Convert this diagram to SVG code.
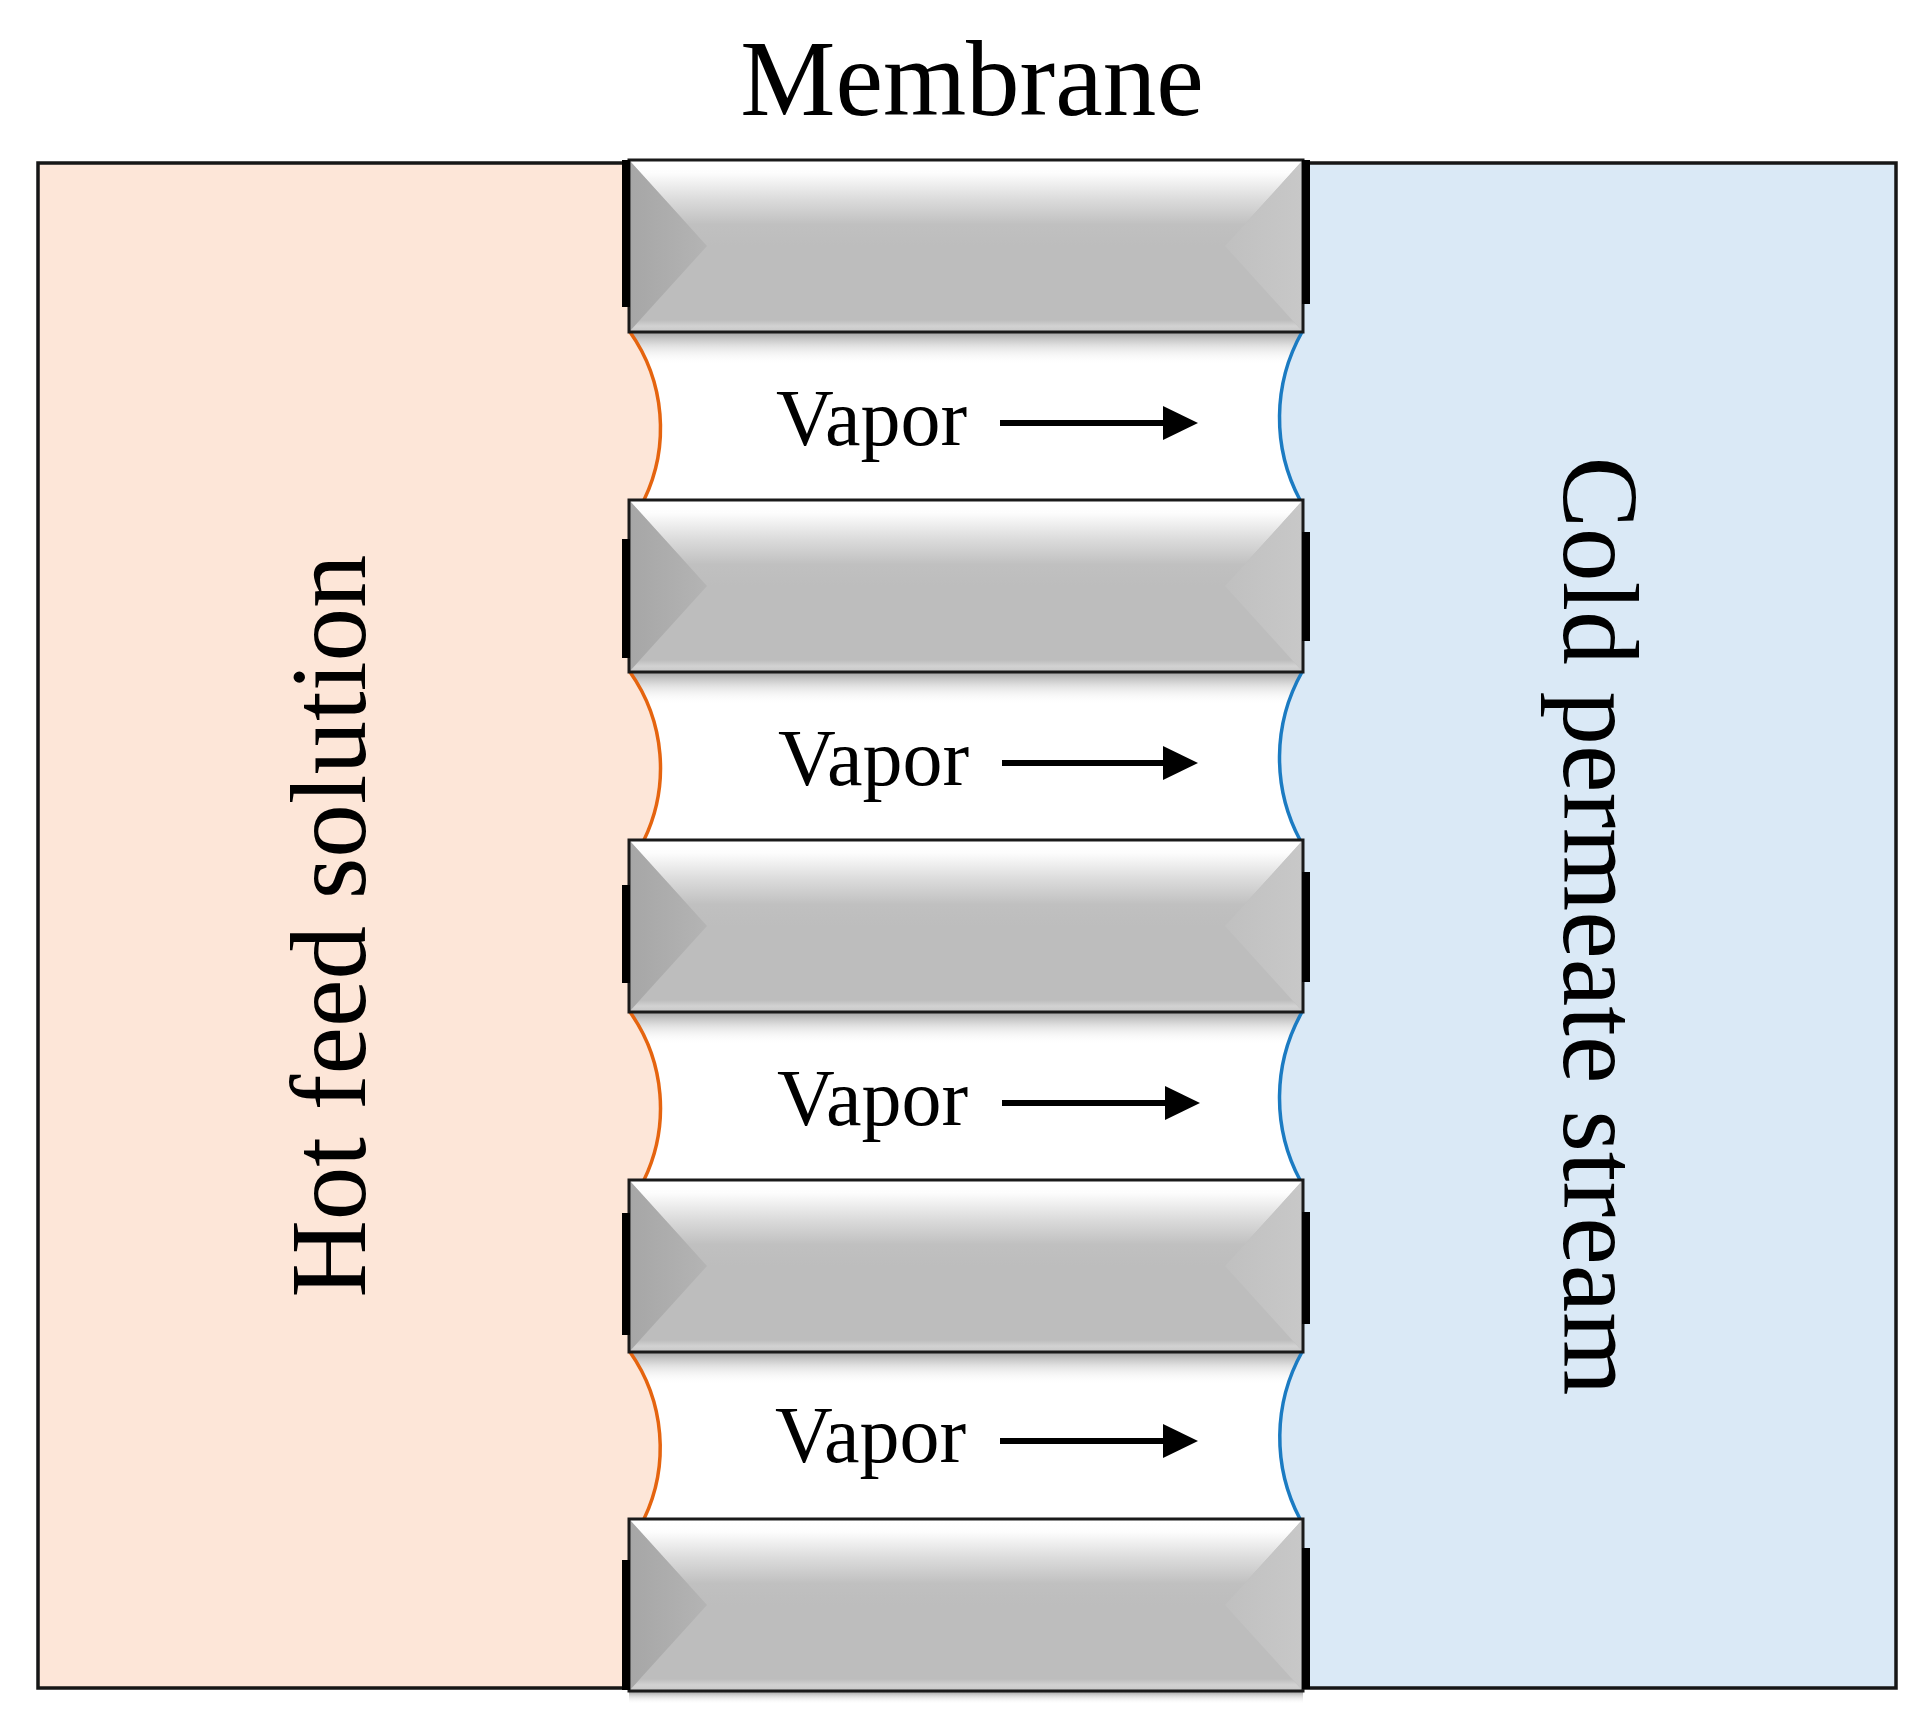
<svg xmlns="http://www.w3.org/2000/svg" xmlns:xlink="http://www.w3.org/1999/xlink" width="1930" height="1727" viewBox="0 0 1930 1727">
<style>
.lbl{font-family:"Liberation Serif","Times New Roman",serif;fill:#000;}
.big{font-size:107px;}
.vap{font-size:80px;}
.hotcurve{fill:none;stroke:#E5640F;stroke-width:3.5;}
.coldcurve{fill:none;stroke:#1B7BC2;stroke-width:3.5;}
.bar{fill:#000;}
.shadow{fill:url(#shadowGrad);}
.arrow{stroke:#000;stroke-width:6;fill:none;marker-end:url(#head);}
</style>
<defs>
<linearGradient id="topGrad" x1="0" y1="0" x2="0" y2="1">
<stop offset="0" stop-color="#ffffff"/>
<stop offset="0.15" stop-color="#fdfdfd"/>
<stop offset="0.45" stop-color="#dcdcdc"/>
<stop offset="0.75" stop-color="#c0c0c0"/>
<stop offset="1" stop-color="#bdbdbd"/>
</linearGradient>
<linearGradient id="leftGrad" x1="0" y1="0" x2="1" y2="0">
<stop offset="0" stop-color="#a6a6a6"/>
<stop offset="1" stop-color="#b4b4b4"/>
</linearGradient>
<linearGradient id="rightGrad" x1="0" y1="0" x2="1" y2="0">
<stop offset="0" stop-color="#c0c0c0"/>
<stop offset="1" stop-color="#c8c8c8"/>
</linearGradient>
<linearGradient id="botGrad" x1="0" y1="0" x2="0" y2="1">
<stop offset="0" stop-color="#bdbdbd"/>
<stop offset="0.5" stop-color="#d2d2d2"/>
<stop offset="1" stop-color="#c8c8c8"/>
</linearGradient>
<linearGradient id="shadowGrad" x1="0" y1="0" x2="0" y2="1">
<stop offset="0" stop-color="#6e6e6e" stop-opacity="0.6"/>
<stop offset="0.4" stop-color="#9a9a9a" stop-opacity="0.3"/>
<stop offset="1" stop-color="#ffffff" stop-opacity="0"/>
</linearGradient>
<marker id="head" markerUnits="userSpaceOnUse" viewBox="0 0 35 34" refX="2" refY="17" markerWidth="35" markerHeight="34" orient="auto">
<path d="M0,0 L35,17 L0,34 Z" fill="#000"/>
</marker>
<g id="blockShape">
<rect x="0" y="0" width="674" height="172" fill="#bdbdbd"/>
<polygon points="0,0 674,0 596,86 78,86" fill="url(#topGrad)"/>
<polygon points="11,160 663,160 674,172 0,172" fill="url(#botGrad)"/>
<polygon points="0,0 78,86 0,172" fill="url(#leftGrad)"/>
<polygon points="674,0 596,86 674,172" fill="url(#rightGrad)"/>
<rect x="0" y="0" width="674" height="172" fill="none" stroke="#1a1a1a" stroke-width="3"/>
</g>
</defs>

<rect x="0" y="0" width="1930" height="1727" fill="#ffffff"/>

<g id="hot-feed-region">
<rect x="38" y="163" width="591" height="1525" fill="#FDE6D8"/>
</g>
<g id="cold-permeate-region">
<rect x="1303" y="163" width="593" height="1525" fill="#DAE9F6"/>
</g>
<g id="frame">
<rect x="38" y="163" width="1858" height="1525" fill="none" stroke="#161616" stroke-width="3.5"/>
</g>

<g id="pore-shadows">
<rect class="shadow" x="629" y="333" width="674" height="32"/>
<rect class="shadow" x="629" y="673" width="674" height="32"/>
<rect class="shadow" x="629" y="1013" width="674" height="32"/>
<rect class="shadow" x="629" y="1353" width="674" height="32"/>
<rect class="shadow" x="629" y="1692" width="674" height="12"/>
</g>

<g id="menisci-hot">
<path d="M630,332 A166,166 0 0 1 644,500 L620,500 L620,332 Z" fill="#FDE6D8"/>
<path d="M630,672 A166,166 0 0 1 644,840 L620,840 L620,672 Z" fill="#FDE6D8"/>
<path d="M630,1012 A166,166 0 0 1 644,1180 L620,1180 L620,1012 Z" fill="#FDE6D8"/>
<path d="M630,1352 A166,166 0 0 1 644,1519 L620,1519 L620,1352 Z" fill="#FDE6D8"/>
<path class="hotcurve" d="M630,332 A166,166 0 0 1 644,500"/>
<path class="hotcurve" d="M630,672 A166,166 0 0 1 644,840"/>
<path class="hotcurve" d="M630,1012 A166,166 0 0 1 644,1180"/>
<path class="hotcurve" d="M630,1352 A166,166 0 0 1 644,1519"/>
</g>
<g id="menisci-cold">
<path d="M1302,332 A175,175 0 0 0 1300,500 L1310,500 L1310,332 Z" fill="#DAE9F6"/>
<path d="M1302,672 A175,175 0 0 0 1300,840 L1310,840 L1310,672 Z" fill="#DAE9F6"/>
<path d="M1302,1012 A175,175 0 0 0 1300,1180 L1310,1180 L1310,1012 Z" fill="#DAE9F6"/>
<path d="M1302,1352 A175,175 0 0 0 1300,1519 L1310,1519 L1310,1352 Z" fill="#DAE9F6"/>
<path class="coldcurve" d="M1302,332 A175,175 0 0 0 1300,500"/>
<path class="coldcurve" d="M1302,672 A175,175 0 0 0 1300,840"/>
<path class="coldcurve" d="M1302,1012 A175,175 0 0 0 1300,1180"/>
<path class="coldcurve" d="M1302,1352 A175,175 0 0 0 1300,1519"/>
</g>

<g id="membrane-block-1">
<use xlink:href="#blockShape" href="#blockShape" transform="translate(629,160)"/>
<rect class="bar" x="622" y="160" width="8" height="147"/>
<rect class="bar" x="1302" y="160" width="8" height="144"/>
</g>
<g id="membrane-block-2">
<use xlink:href="#blockShape" href="#blockShape" transform="translate(629,500)"/>
<rect class="bar" x="622" y="539" width="8" height="119"/>
<rect class="bar" x="1302" y="532" width="8" height="109"/>
</g>
<g id="membrane-block-3">
<use xlink:href="#blockShape" href="#blockShape" transform="translate(629,840)"/>
<rect class="bar" x="622" y="885" width="8" height="98"/>
<rect class="bar" x="1302" y="872" width="8" height="110"/>
</g>
<g id="membrane-block-4">
<use xlink:href="#blockShape" href="#blockShape" transform="translate(629,1180)"/>
<rect class="bar" x="622" y="1213" width="8" height="122"/>
<rect class="bar" x="1302" y="1212" width="8" height="112"/>
</g>
<g id="membrane-block-5">
<use xlink:href="#blockShape" href="#blockShape" transform="translate(629,1519)"/>
<rect class="bar" x="622" y="1560" width="8" height="130"/>
<rect class="bar" x="1302" y="1548" width="8" height="141"/>
</g>

<g id="connectors">
<line class="arrow" x1="1000" y1="423" x2="1165" y2="423"/>
<line class="arrow" x1="1002" y1="763" x2="1165" y2="763"/>
<line class="arrow" x1="1002" y1="1103" x2="1167" y2="1103"/>
<line class="arrow" x1="1000" y1="1441" x2="1165" y2="1441"/>
</g>

<g id="labels">
<text class="lbl big" x="972" y="115" text-anchor="middle">Membrane</text>
<text class="lbl big" transform="translate(365,926) rotate(-90)" x="0" y="0" text-anchor="middle">Hot feed solution</text>
<text class="lbl big" transform="translate(1564,926) rotate(90)" x="0" y="0" text-anchor="middle">Cold permeate stream</text>
<text class="lbl vap" x="776" y="445">Vapor</text>
<text class="lbl vap" x="778" y="785">Vapor</text>
<text class="lbl vap" x="777" y="1125">Vapor</text>
<text class="lbl vap" x="775" y="1462">Vapor</text>
</g>
</svg>
